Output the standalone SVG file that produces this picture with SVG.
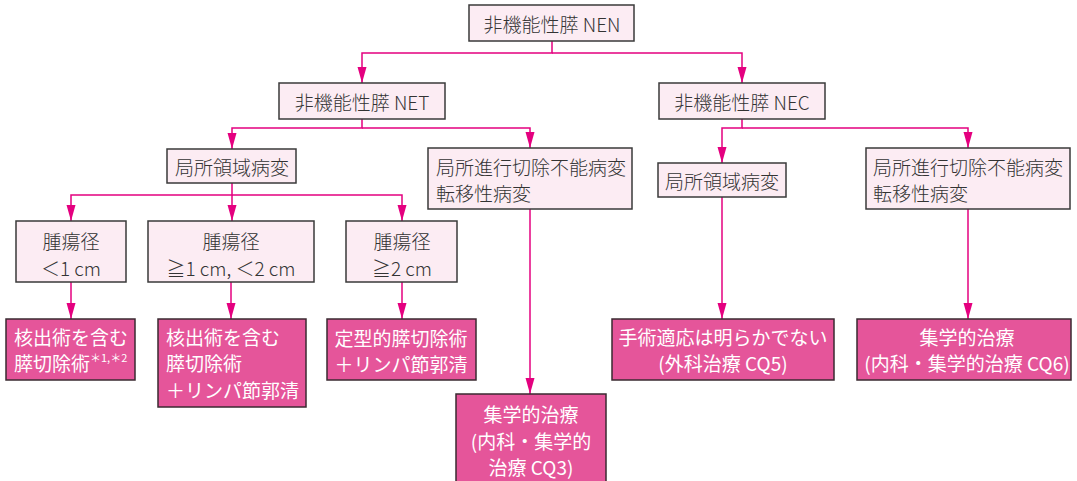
<svg xmlns="http://www.w3.org/2000/svg" width="1077" height="481" viewBox="0 0 1077 481">
<defs>
<marker id="arr" markerUnits="userSpaceOnUse" markerWidth="17" markerHeight="10" refX="16" refY="4.5" orient="auto">
<path d="M0,0 L16,4.5 L0,9 Z" fill="#e4007f"/>
</marker>
<style>
.lt{fill:#fcecf3;stroke:#3a3a3a;stroke-width:1.5}
.pk{fill:#e5559a;stroke:#3a2a30;stroke-width:1.5}
text{font-family:"Noto Sans CJK JP","Noto Sans",sans-serif;font-size:19px;font-weight:300;dominant-baseline:central}
.d{fill:#333}
.w{fill:#ffffff;font-weight:400}
.c{text-anchor:middle}
.ln{fill:none;stroke:#e4007f;stroke-width:1.5}
</style>
</defs>
<rect width="1077" height="481" fill="#ffffff"/>
<g id="connectors">
<path class="ln" d="M552,41 V53 H362 V83" marker-end="url(#arr)"/>
<path class="ln" d="M552,53 H742 V83" marker-end="url(#arr)"/>
<path class="ln" d="M362,119 V128 H232 V149" marker-end="url(#arr)"/>
<path class="ln" d="M362,128 H530 V148" marker-end="url(#arr)"/>
<path class="ln" d="M742,119 V128 H722 V163" marker-end="url(#arr)"/>
<path class="ln" d="M742,128 H968 V148" marker-end="url(#arr)"/>
<path class="ln" d="M232,183 V195 H71 V221" marker-end="url(#arr)"/>
<path class="ln" d="M232,195 V221" marker-end="url(#arr)"/>
<path class="ln" d="M232,195 H402 V221" marker-end="url(#arr)"/>
<path class="ln" d="M71,282 V319" marker-end="url(#arr)"/>
<path class="ln" d="M231,282 V319" marker-end="url(#arr)"/>
<path class="ln" d="M402,282 V319" marker-end="url(#arr)"/>
<path class="ln" d="M530,209 V394" marker-end="url(#arr)"/>
<path class="ln" d="M722,197 V319" marker-end="url(#arr)"/>
<path class="ln" d="M968,209 V319" marker-end="url(#arr)"/>
</g>
<g id="nen">
<rect class="lt" x="469" y="5" width="165" height="36"/>
<text class="d c" x="552" y="23">非機能性膵 NEN</text>
</g>
<g id="net">
<rect class="lt" x="279" y="83" width="166" height="36"/>
<text class="d c" x="362" y="101">非機能性膵 NET</text>
</g>
<g id="nec">
<rect class="lt" x="659" y="83" width="166" height="36"/>
<text class="d c" x="742" y="101">非機能性膵 NEC</text>
</g>
<g id="net-local">
<rect class="lt" x="167" y="149" width="129" height="34"/>
<text class="d c" x="232" y="166">局所領域病変</text>
</g>
<g id="net-advanced">
<rect class="lt" x="428" y="148" width="204" height="61"/>
<text class="d" x="436" y="166">局所進行切除不能病変</text>
<text class="d" x="436" y="192">転移性病変</text>
</g>
<g id="nec-local">
<rect class="lt" x="658" y="163" width="128" height="34"/>
<text class="d c" x="722" y="180">局所領域病変</text>
</g>
<g id="nec-advanced">
<rect class="lt" x="866" y="148" width="204" height="61"/>
<text class="d" x="873" y="166">局所進行切除不能病変</text>
<text class="d" x="873" y="192">転移性病変</text>
</g>
<g id="size1">
<rect class="lt" x="16" y="221" width="110" height="61"/>
<text class="d c" x="71" y="240">腫瘍径</text>
<text class="d c" x="71" y="267">＜1 cm</text>
</g>
<g id="size2">
<rect class="lt" x="148" y="221" width="166" height="61"/>
<text class="d c" x="231" y="240">腫瘍径</text>
<text class="d c" x="231" y="267">≧1 cm, ＜2 cm</text>
</g>
<g id="size3">
<rect class="lt" x="346" y="221" width="111" height="61"/>
<text class="d c" x="402" y="240">腫瘍径</text>
<text class="d c" x="402" y="267">≧2 cm</text>
</g>
<g id="treat1">
<rect class="pk" x="6" y="319" width="129" height="61"/>
<text class="w" x="14" y="336">核出術を含む</text>
<text class="w" x="14" y="362">膵切除術<tspan font-size="11" dy="-5">＊1,＊2</tspan></text>
</g>
<g id="treat2">
<rect class="pk" x="158" y="319" width="148" height="88"/>
<text class="w" x="166" y="336">核出術を含む</text>
<text class="w" x="166" y="362">膵切除術</text>
<text class="w" x="166" y="389">＋リンパ節郭清</text>
</g>
<g id="treat3">
<rect class="pk" x="327" y="319" width="149" height="61"/>
<text class="w c" x="401" y="337">定型的膵切除術</text>
<text class="w c" x="401" y="363">＋リンパ節郭清</text>
</g>
<g id="treat4">
<rect class="pk" x="456" y="394" width="150" height="92"/>
<text class="w c" x="531" y="413">集学的治療</text>
<text class="w c" x="531" y="440">(内科・集学的</text>
<text class="w c" x="531" y="466">治療 CQ3)</text>
</g>
<g id="treat5">
<rect class="pk" x="612" y="319" width="222" height="61"/>
<text class="w c" x="723" y="336">手術適応は明らかでない</text>
<text class="w c" x="723" y="362">(外科治療 CQ5)</text>
</g>
<g id="treat6">
<rect class="pk" x="857" y="319" width="214" height="61"/>
<text class="w c" x="967" y="336">集学的治療</text>
<text class="w c" x="967" y="362">(内科・集学的治療 CQ6)</text>
</g>
</svg>
